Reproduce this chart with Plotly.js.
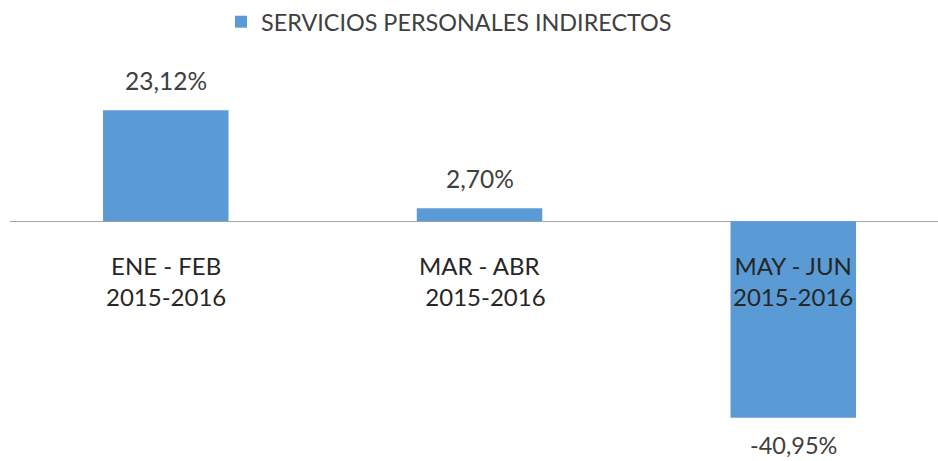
<!DOCTYPE html>
<html>
<head>
<meta charset="utf-8">
<script src="https://cdn.plot.ly/plotly-3.0.1.min.js"></script>
<style>html,body{margin:0;padding:0;background:#fff;}#chart{width:938px;height:461px;}</style>
</head>
<body>
<div id="chart"></div>
<script>
const seriesName = "SERVICIOS PERSONALES INDIRECTOS";
const categories = ["ENE - FEB", "MAR - ABR", "MAY - JUN"];
const categoryLabels = ["ENE - FEB<br>2015-2016", "MAR - ABR<br>\u00a0\u00a02015-2016", "MAY - JUN<br>2015-2016"];
const values = [23.12, 2.70, -40.95];

const fontFam = "Lato, 'Open Sans', sans-serif";
const textColor = "#404040";

const trace = {
  type: "bar",
  name: seriesName,
  x: categories,
  y: values,
  width: 0.4,
  marker: {color: "#5b9bd5"},
  hoverinfo: "none",
  showlegend: true
};

const annotations = [];
categories.forEach((c, i) => {
  annotations.push({
    x: c, y: 0, xref: "x", yref: "y",
    text: categoryLabels[i],
    showarrow: false,
    yanchor: "top",
    yshift: -28,
    font: {family: fontFam, size: 24, color: "#262626"}
  });
  const v = values[i];
  const txt = v.toFixed(2).replace(".", ",") + "%";
  annotations.push({
    x: c, y: v, xref: "x", yref: "y",
    text: txt,
    showarrow: false,
    borderpad: 0,
    yanchor: v >= 0 ? "bottom" : "top",
    yshift: v >= 0 ? 14 : -12,
    font: {family: fontFam, size: v >= 0 ? 24.5 : 23.5, color: textColor}
  });
});

const layout = {
  width: 938, height: 461,
  margin: {l: 10, r: 0, t: 60, b: 0, pad: 0},
  paper_bgcolor: "#ffffff",
  plot_bgcolor: "#ffffff",
  font: {family: fontFam, color: textColor},
  separators: ",.",
  showlegend: true,
  legend: {
    orientation: "h",
    xref: "container", yref: "container",
    x: 0.2356, xanchor: "left",
    y: 1.0, yanchor: "top",
    font: {family: fontFam, size: 23.4, color: textColor},
    itemwidth: 30
  },
  xaxis: {
    type: "category",
    range: [-0.4966, 2.4614],
    showticklabels: false,
    showgrid: false,
    zeroline: false,
    showline: false,
    ticks: ""
  },
  yaxis: {
    range: [-49.94, 33.6],
    showticklabels: false,
    showgrid: false,
    zeroline: true,
    zerolinecolor: "#a6a6a6",
    zerolinewidth: 1.5,
    ticks: ""
  },
  annotations: annotations
};

Plotly.newPlot("chart", [trace], layout, {staticPlot: true, displayModeBar: false});
</script>
</body>
</html>
